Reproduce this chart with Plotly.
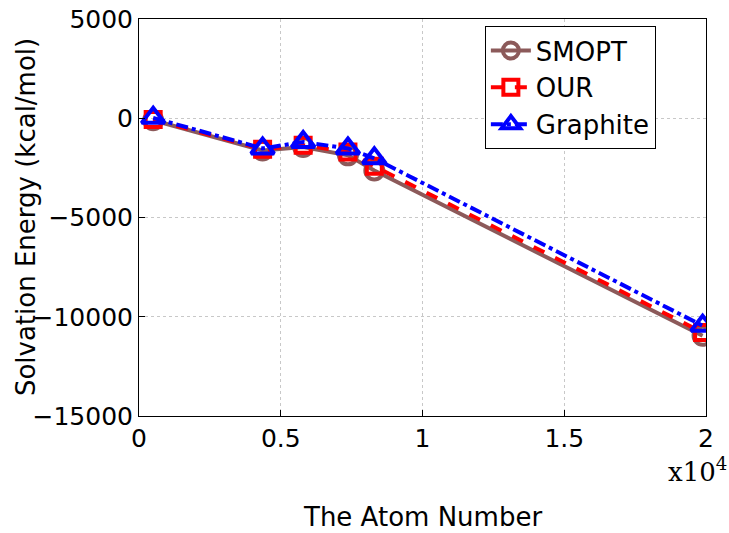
import plotly.graph_objects as go

atoms = [500, 4360, 5790, 7370, 8300, 19880]
smopt = [-100, -1620, -1450, -1870, -2630, -10960]
our = [-60, -1560, -1360, -1700, -2420, -10790]
graphite = [20, -1520, -1200, -1520, -2020, -10450]

x_tickvals = [0, 5000, 10000, 15000, 20000]
x_ticktext = ["0", "0.5", "1", "1.5", "2"]
y_tickvals = [5000, 0, -5000, -10000, -15000]
y_ticktext = ["5000", "0", "\u22125000", "\u221210000", "\u221215000"]

fig = go.Figure()
fig.add_trace(go.Scatter(x=atoms, y=smopt, name="SMOPT", mode="lines+markers",
                         line=dict(color="#8c5a5a", width=4),
                         marker=dict(symbol="circle-open", size=18, line=dict(width=4, color="#8c5a5a"))))
fig.add_trace(go.Scatter(x=atoms, y=our, name="OUR", mode="lines+markers",
                         line=dict(color="#ff0000", width=4, dash="dash"),
                         marker=dict(symbol="square-open", size=15, line=dict(width=4, color="#ff0000"))))
fig.add_trace(go.Scatter(x=atoms, y=graphite, name="Graphite", mode="lines+markers",
                         line=dict(color="#0000ff", width=4, dash="dashdot"),
                         marker=dict(symbol="triangle-up-open", size=20, line=dict(width=4, color="#0000ff"))))

font = "DejaVu Sans, sans-serif"
fig.update_layout(
    width=729, height=533,
    margin=dict(l=139, r=23, t=19, b=117),
    plot_bgcolor="white", paper_bgcolor="white",
    font=dict(family=font, size=25, color="black"),
    showlegend=True,
    legend=dict(x=0.61, y=0.982, xanchor="left", yanchor="top",
                bgcolor="white", bordercolor="black", borderwidth=1,
                font=dict(size=26, family=font), itemwidth=40, tracegroupgap=0),
    xaxis=dict(range=[0, 20000], tickvals=x_tickvals, ticktext=x_ticktext,
               showline=True, linecolor="black", linewidth=1, mirror=True,
               ticks="inside", ticklen=6, tickcolor="black",
               showgrid=True, gridcolor="#c8c8c8", griddash="dot", gridwidth=1,
               zeroline=False, tickfont=dict(size=25), automargin=False),
    yaxis=dict(range=[-15000, 5000], tickvals=y_tickvals, ticktext=y_ticktext,
               showline=True, linecolor="black", linewidth=1, mirror=True,
               ticks="inside", ticklen=6, tickcolor="black",
               showgrid=True, gridcolor="#c8c8c8", griddash="dot", gridwidth=1,
               zeroline=False, tickfont=dict(size=25), automargin=False),
    annotations=[
        dict(text="Solvation Energy (kcal/mol)", xref="paper", yref="paper",
             x=-0.2, y=0.5, textangle=-90, showarrow=False,
             font=dict(size=26, family=font), xanchor="center", yanchor="middle"),
        dict(text="The Atom Number", xref="paper", yref="paper",
             x=0.5, y=-0.254, showarrow=False,
             font=dict(size=26, family=font), xanchor="center", yanchor="middle"),
        dict(text="x10<sup>4</sup>", xref="paper", yref="paper",
             x=0.985, y=-0.135, showarrow=False,
             font=dict(size=26, family="DejaVu Serif, serif"), xanchor="center", yanchor="middle"),
    ],
)
fig.write_html("out.html", config={"displayModeBar": False},
               post_script="document.body.style.margin='0';document.body.style.overflow='hidden';")
